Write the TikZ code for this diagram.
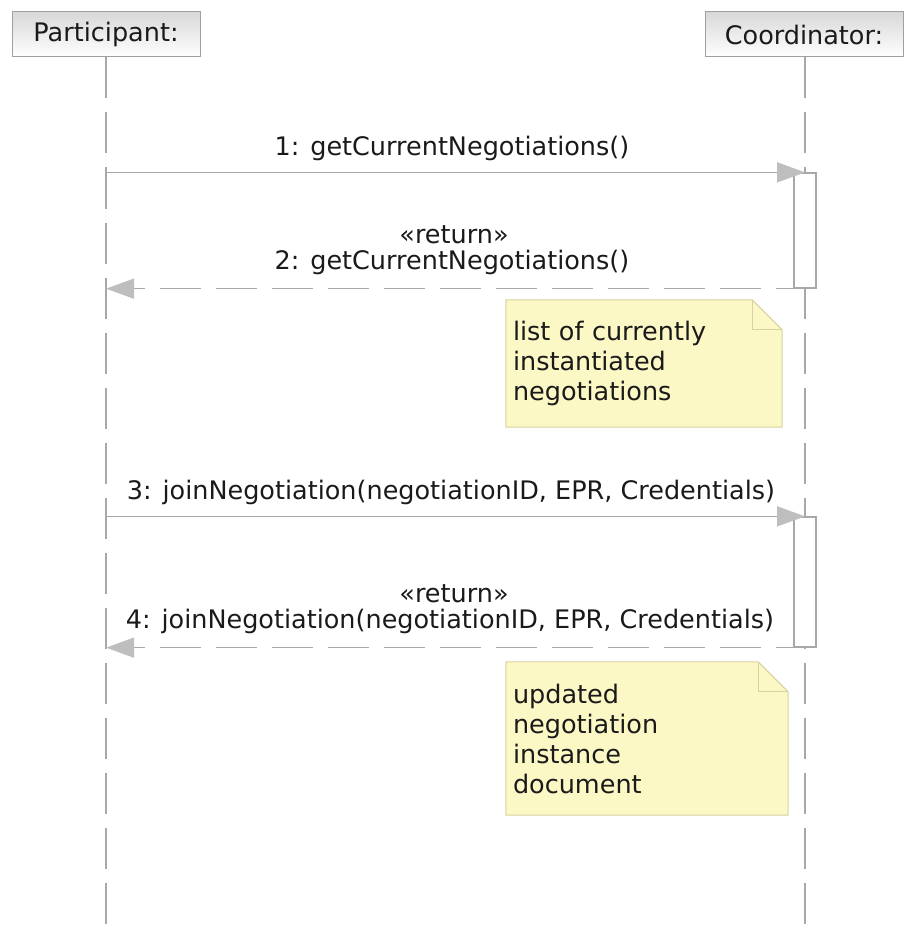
\documentclass[tikz,border=0pt]{standalone}
\usepackage{fontspec}
\setmainfont{DejaVu Sans}
\usetikzlibrary{arrows.meta,backgrounds}
\definecolor{linegray}{HTML}{A8A8A8}
\definecolor{tipgray}{HTML}{BEBEBE}
\definecolor{headborder}{HTML}{A0A0A0}
\definecolor{headtop}{HTML}{D8D8D8}
\definecolor{notefill}{HTML}{FBF8C6}
\definecolor{noteborder}{HTML}{D6D3A0}
\definecolor{ink}{HTML}{1A1A1A}
\begin{document}
\begin{tikzpicture}[x=1pt,y=-1pt,
  font=\fontsize{25.5}{30}\selectfont, text=ink,
  head/.style={draw=headborder, line width=1pt, top color=headtop, bottom color=white,
    minimum height=45pt, inner sep=0pt},
  lifeline/.style={draw=linegray, line width=1.3pt, dash pattern=on 41pt off 14pt},
  actbox/.style={draw=linegray, fill=white, line width=1.3pt, minimum width=22pt, inner sep=0pt},
  msg/.style={draw=linegray, line width=1.5pt, -{Triangle[length=28pt,width=20pt,color=tipgray]}},
  ret/.style={msg, dash pattern=on 41pt off 15pt},
  lbl/.style={inner sep=0pt},
  note/.style={inner xsep=7pt, inner ysep=0pt, align=left},
  notebg/.style={fill=notefill, draw=noteborder, line width=1pt}
]
\useasboundingbox (0,0) rectangle (904,928);

% objects
\node[head, minimum width=188pt] (P) at (106,34.5) {Participant:};
\node[head, minimum width=198pt] (C) at (804,34.5) {Coordinator:};
\coordinate (Pbot) at (106,928);
\coordinate (Cbot) at (805,928);

% lifelines
\draw[lifeline] (P.south) -- (Pbot);
\draw[lifeline] (C.south -| Cbot) -- (Cbot);

% activations
\node[actbox, minimum height=115pt] (a1) at (805,230.5) {};
\node[actbox, minimum height=130pt] (a2) at (805,582) {};

% message ends on the participant lifeline
\coordinate (s1) at (Pbot |- a1.north);
\coordinate (e2) at (Pbot |- a1.south);
\coordinate (s3) at (Pbot |- a2.north);
\coordinate (e4) at (Pbot |- a2.south);

% messages
\draw[msg] (s1) -- (a1.north);
\draw[ret] (a1.south east) -- (e2);
\draw[msg] (s3) -- (a2.north);
\draw[ret] (a2.south east) -- (e4);

% message labels
\node[lbl] (l1) at (452,148) {1: getCurrentNegotiations()};
\node[lbl] (l2a) at (454,235) {«return»};
\node[lbl] (l2b) at (452,262) {2: getCurrentNegotiations()};
\node[lbl] (l3) at (451,492) {3: joinNegotiation(negotiationID, EPR, Credentials)};
\node[lbl] (l4a) at (454,594) {«return»};
\node[lbl] (l4b) at (450,621) {4: joinNegotiation(negotiationID, EPR, Credentials)};

% notes
\node[note, minimum width=276pt, minimum height=127pt, text width=262pt] (n1) at (644,363.5)
  {list of currently\\instantiated\\negotiations};
\node[note, minimum width=282pt, minimum height=153pt, text width=268pt] (n2) at (647,738.5)
  {updated\\negotiation\\instance\\document};

\begin{scope}[on background layer]
  \foreach \n in {n1,n2} {
    \draw[notebg] (\n.north west) -- ([xshift=-30pt]\n.north east)
      -- ([yshift=-30pt]\n.north east) -- (\n.south east) -- (\n.south west) -- cycle;
    \draw[noteborder, line width=1pt] ([xshift=-30pt]\n.north east) |- ([yshift=-30pt]\n.north east);
  }
\end{scope}
\end{tikzpicture}
\end{document}
